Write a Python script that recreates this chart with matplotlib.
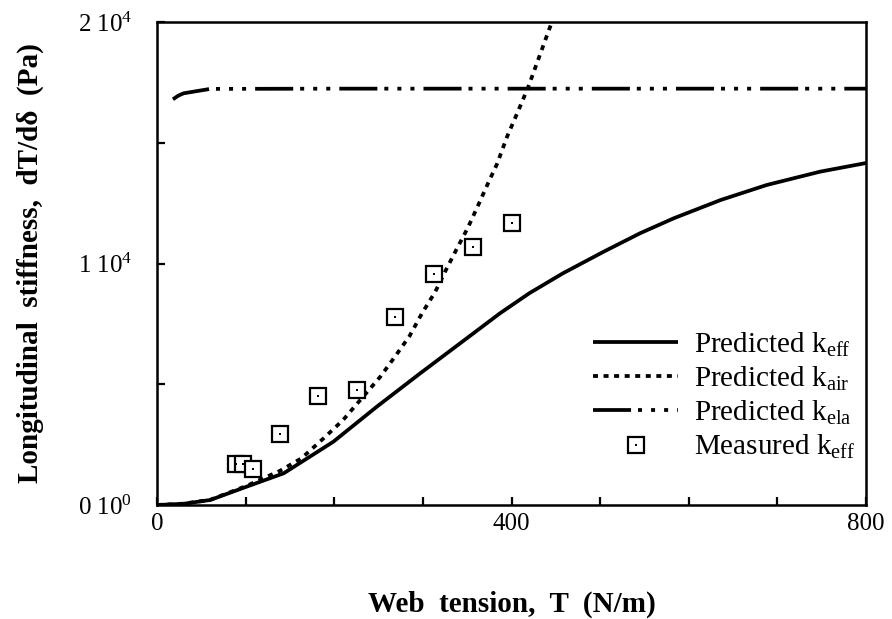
import matplotlib
matplotlib.use("Agg")
import matplotlib.pyplot as plt
from matplotlib.ticker import FixedLocator, FixedFormatter

plt.rcParams['font.family'] = ['Liberation Serif', 'DejaVu Serif']
plt.rcParams['mathtext.fontset'] = 'custom'
plt.rcParams['mathtext.rm'] = 'Liberation Serif'
plt.rcParams['mathtext.it'] = 'Liberation Serif:italic'
plt.rcParams['mathtext.bf'] = 'Liberation Serif:bold'
plt.rcParams['lines.scale_dashes'] = False

# ---- data ----
T_eff = [0, 30, 60, 101, 143, 199, 248, 297, 350, 387, 420, 458, 504, 545, 583, 636, 688, 748, 800]
k_eff = [0, 50, 207, 758, 1313, 2621, 4070, 5453, 6915, 7938, 8766, 9594, 10489, 11251, 11871, 12629, 13251, 13801, 14160]

T_air = [0, 30, 60, 101, 139, 163, 188, 210, 231, 252, 269, 285, 299, 314, 326, 338, 351, 362, 373, 384, 395, 408, 419, 432, 445, 450]
k_air = [0, 55, 215, 790, 1420, 1934, 2762, 3520, 4418, 5313, 6170, 6998, 7938, 8832, 9731, 10588, 11499, 12381, 13280, 14149, 15251, 16356, 17321, 18634, 19946, 20420]

T_ela = [18, 24, 30, 41, 60, 200, 400, 600, 800]
k_ela = [16800, 16950, 17047, 17114, 17230, 17240, 17240, 17240, 17240]

T_meas = [89, 97, 108, 139, 182, 226, 268, 312, 357, 400]
k_meas = [1698, 1698, 1491, 2940, 4520, 4755, 7797, 9565, 10696, 11689]

x_ticks = [0, 100, 200, 300, 400, 500, 600, 700, 800]
x_labels = ['0', '', '', '', '400', '', '', '', '800']
y_ticks = [0, 5000, 10000, 15000, 20000]
y_labels = ['0 10$^{\\mathregular{0}}$', '', '1 10$^{\\mathregular{4}}$', '', '2 10$^{\\mathregular{4}}$']

legend_labels = ['Predicted k$_{\\mathregular{eff}}$', 'Predicted k$_{\\mathregular{air}}$',
                 'Predicted k$_{\\mathregular{ela}}$', 'Measured k$_{\\mathregular{eff}}$']

fig = plt.figure(figsize=(8.92, 6.19), dpi=100)
ax = fig.add_axes([157/892, 1-505/619, (866-157)/892, (505-22)/619])

lw = 2.7
l1, = ax.plot(T_eff, k_eff, color='black', lw=lw, solid_capstyle='butt')
l2, = ax.plot(T_air, k_air, color='black', lw=lw, dashes=(3.6, 4.0))
l3, = ax.plot(T_ela, k_ela, color='black', lw=lw,
              dashes=(27.4, 5.0, 2.9, 6.5, 2.9, 6.5, 2.9, 6.5))
sq, = ax.plot(T_meas, k_meas, ls='none', marker='s', ms=11.5, mfc='white',
              mec='black', mew=1.6, zorder=5)
dt, = ax.plot(T_meas, k_meas, ls='none', marker='s', ms=1.6, mfc='black',
              mec='black', mew=0, zorder=6)

ax.set_xlim(0, 800)
ax.set_ylim(0, 20000)
ax.xaxis.set_major_locator(FixedLocator(x_ticks))
ax.xaxis.set_major_formatter(FixedFormatter(x_labels))
ax.yaxis.set_major_locator(FixedLocator(y_ticks))
ax.yaxis.set_major_formatter(FixedFormatter(y_labels))
ax.tick_params(direction='in', length=6, width=1.6, labelsize=18)
ax.tick_params(axis='y', pad=18)
ax.tick_params(axis='x', pad=6)
for s in ax.spines.values():
    s.set_linewidth(1.8)

ax.set_xlabel('Web  tension,  T  (N/m)', fontsize=21, fontweight='bold', labelpad=40)
ax.set_ylabel('Longitudinal  stiffness,  dT/d\u03b4  (Pa)', fontsize=21,
              fontweight='bold', labelpad=24)

leg = ax.legend([l1, l2, l3, (sq, dt)], legend_labels, loc='lower right',
                bbox_to_anchor=(1.01, 0.055), frameon=False, fontsize=21,
                handlelength=2.9, handletextpad=0.55, labelspacing=0.2,
                borderaxespad=0.2)

fig.savefig('out.png', dpi=100)
